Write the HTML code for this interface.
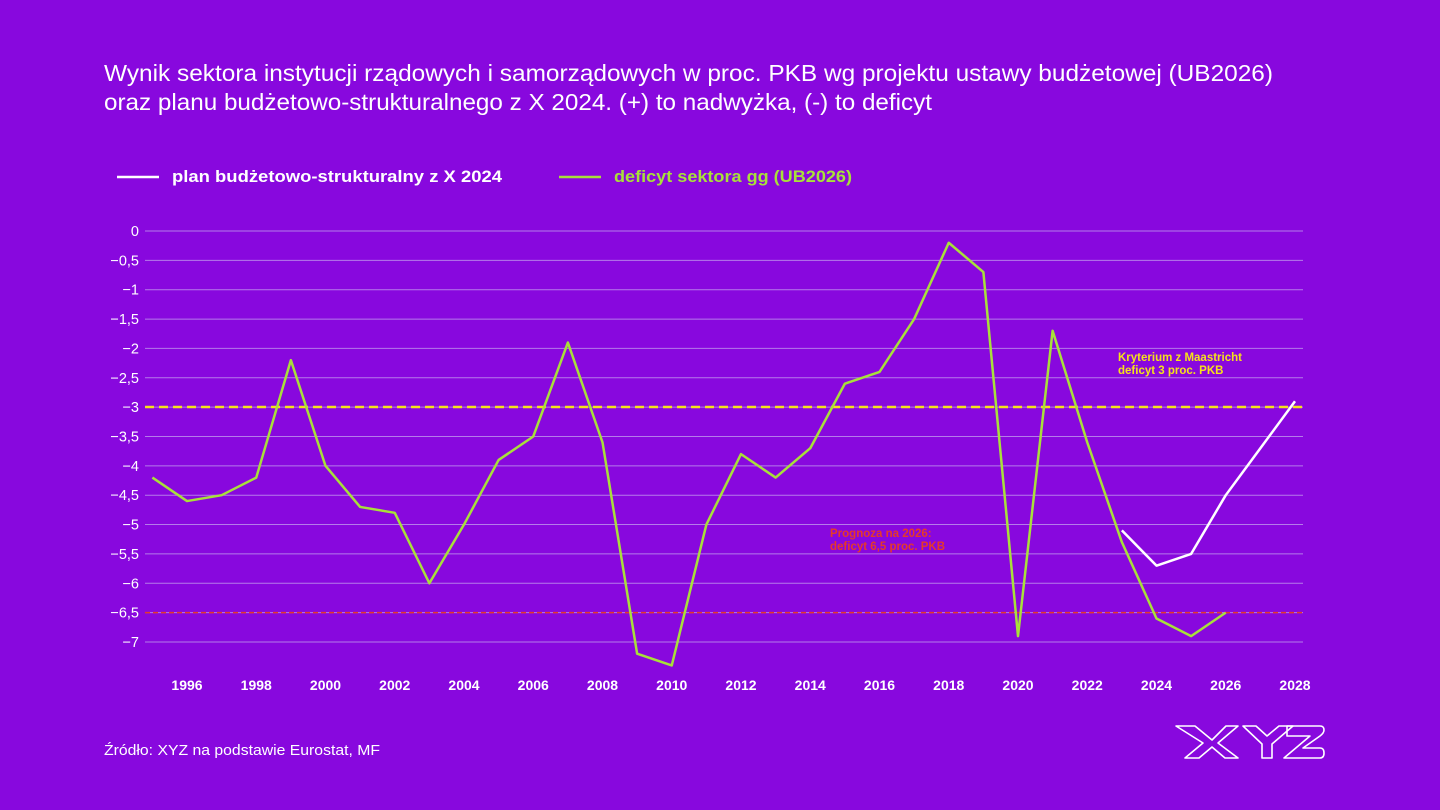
<!DOCTYPE html>
<html><head><meta charset="utf-8"><style>
html,body{margin:0;padding:0;background:#8808DE;}
svg{display:block;font-family:"Liberation Sans",sans-serif;}
</style></head><body>
<svg id="s" width="1440" height="810" viewBox="0 0 1440 810" xmlns="http://www.w3.org/2000/svg">
<rect width="1440" height="810" fill="#8808DE"/>
<text x="104" y="81" fill="#fff" font-size="23" textLength="1169" lengthAdjust="spacingAndGlyphs">Wynik sektora instytucji rządowych i samorządowych w proc. PKB wg projektu ustawy budżetowej (UB2026)</text>
<text x="104" y="110" fill="#fff" font-size="23" textLength="828" lengthAdjust="spacingAndGlyphs">oraz planu budżetowo-strukturalnego z X 2024. (+) to nadwyżka, (-) to deficyt</text>
<line x1="117" y1="177" x2="159" y2="177" stroke="#fff" stroke-width="2.5"/>
<text x="172" y="182" fill="#fff" font-size="17" font-weight="bold" textLength="330" lengthAdjust="spacingAndGlyphs">plan budżetowo-strukturalny z X 2024</text>
<line x1="559" y1="177" x2="601" y2="177" stroke="#A8E03A" stroke-width="2.5"/>
<text x="614" y="182" fill="#A8E03A" font-size="17" font-weight="bold" textLength="238" lengthAdjust="spacingAndGlyphs">deficyt sektora gg (UB2026)</text>
<g id="grid"></g>
<line x1="145" y1="407" x2="1303" y2="407" stroke="#F5E21A" stroke-width="2.5" stroke-dasharray="9,5"/>
<line x1="145" y1="612.6" x2="1303" y2="612.6" stroke="#E53A2A" stroke-width="1.5" stroke-dasharray="5,3"/>
<text x="1118" y="361" fill="#F5E21A" font-size="11.5" font-weight="bold">Kryterium z Maastricht</text>
<text x="1118" y="374" fill="#F5E21A" font-size="11.5" font-weight="bold">deficyt 3 proc. PKB</text>
<text x="830" y="537" fill="#E53A2A" font-size="11.5" font-weight="bold">Prognoza na 2026:</text>
<text x="830" y="550" fill="#E53A2A" font-size="11.5" font-weight="bold">deficyt 6,5 proc. PKB</text>
<polyline id="g" fill="none" stroke="#A8E03A" stroke-width="2.5" stroke-linejoin="round"/>
<polyline id="w" fill="none" stroke="#fff" stroke-width="2.5" stroke-linejoin="round"/>
<text x="104" y="755" fill="#fff" font-size="14.5" textLength="276" lengthAdjust="spacingAndGlyphs">Źródło: XYZ na podstawie Eurostat, MF</text>
<g fill="none" stroke="#fff" stroke-width="1.6" stroke-linejoin="round">
<path d="M1176 726 L1195 726 L1212 740 L1226 726 L1238 726 L1218 743 L1238 758 L1225 758 L1212 747 L1199 758 L1185 758 L1203 743 Z"/>
<path d="M1243 726 L1256 726 L1267 736 L1279 726 L1293 726 L1272 744 L1272 758 L1262 758 L1262 744 Z"/>
<path d="M1287 726 L1320 726 Q1324 726 1324 730 Q1324 733 1320 736 L1303 748 L1320 748 Q1324 748 1324 753 Q1324 758 1320 758 L1284 758 L1310 736 L1287 736 Z"/>
</g>
</svg>
<script>
const X=y=>187+(y-1996)*34.625, Y=v=>231-v*58.71;
let g='';
for(let i=0;i<=14;i++){const v=i*0.5,y=Y(-v);
g+=`<line x1="145" x2="1303" y1="${y}" y2="${y}" stroke="#B57BEA" stroke-width="1"/>`;
g+=`<text x="139" y="${y+5}" text-anchor="end" fill="#fff" font-size="14.5">${i==0?'0':'\u2212'+String(v).replace('.', ',')}</text>`;}
for(let yr=1996;yr<=2028;yr+=2)g+=`<text x="${X(yr)}" y="690" text-anchor="middle" fill="#fff" font-size="14" font-weight="bold">${yr}</text>`;
document.getElementById('grid').innerHTML=g;
const gd=[-4.2,-4.6,-4.5,-4.2,-2.2,-4.0,-4.7,-4.8,-6.0,-5.0,-3.9,-3.5,-1.9,-3.6,-7.2,-7.4,-5.0,-3.8,-4.2,-3.7,-2.6,-2.4,-1.5,-0.2,-0.7,-6.9,-1.7,-3.6,-5.3,-6.6,-6.9,-6.5];
document.getElementById('g').setAttribute('points',gd.map((v,i)=>X(1995+i)+','+Y(v)).join(' '));
const wd=[-5.1,-5.7,-5.5,-4.5,-3.7,-2.9];
document.getElementById('w').setAttribute('points',wd.map((v,i)=>X(2023+i)+','+Y(v)).join(' '));
</script>
</body></html>
